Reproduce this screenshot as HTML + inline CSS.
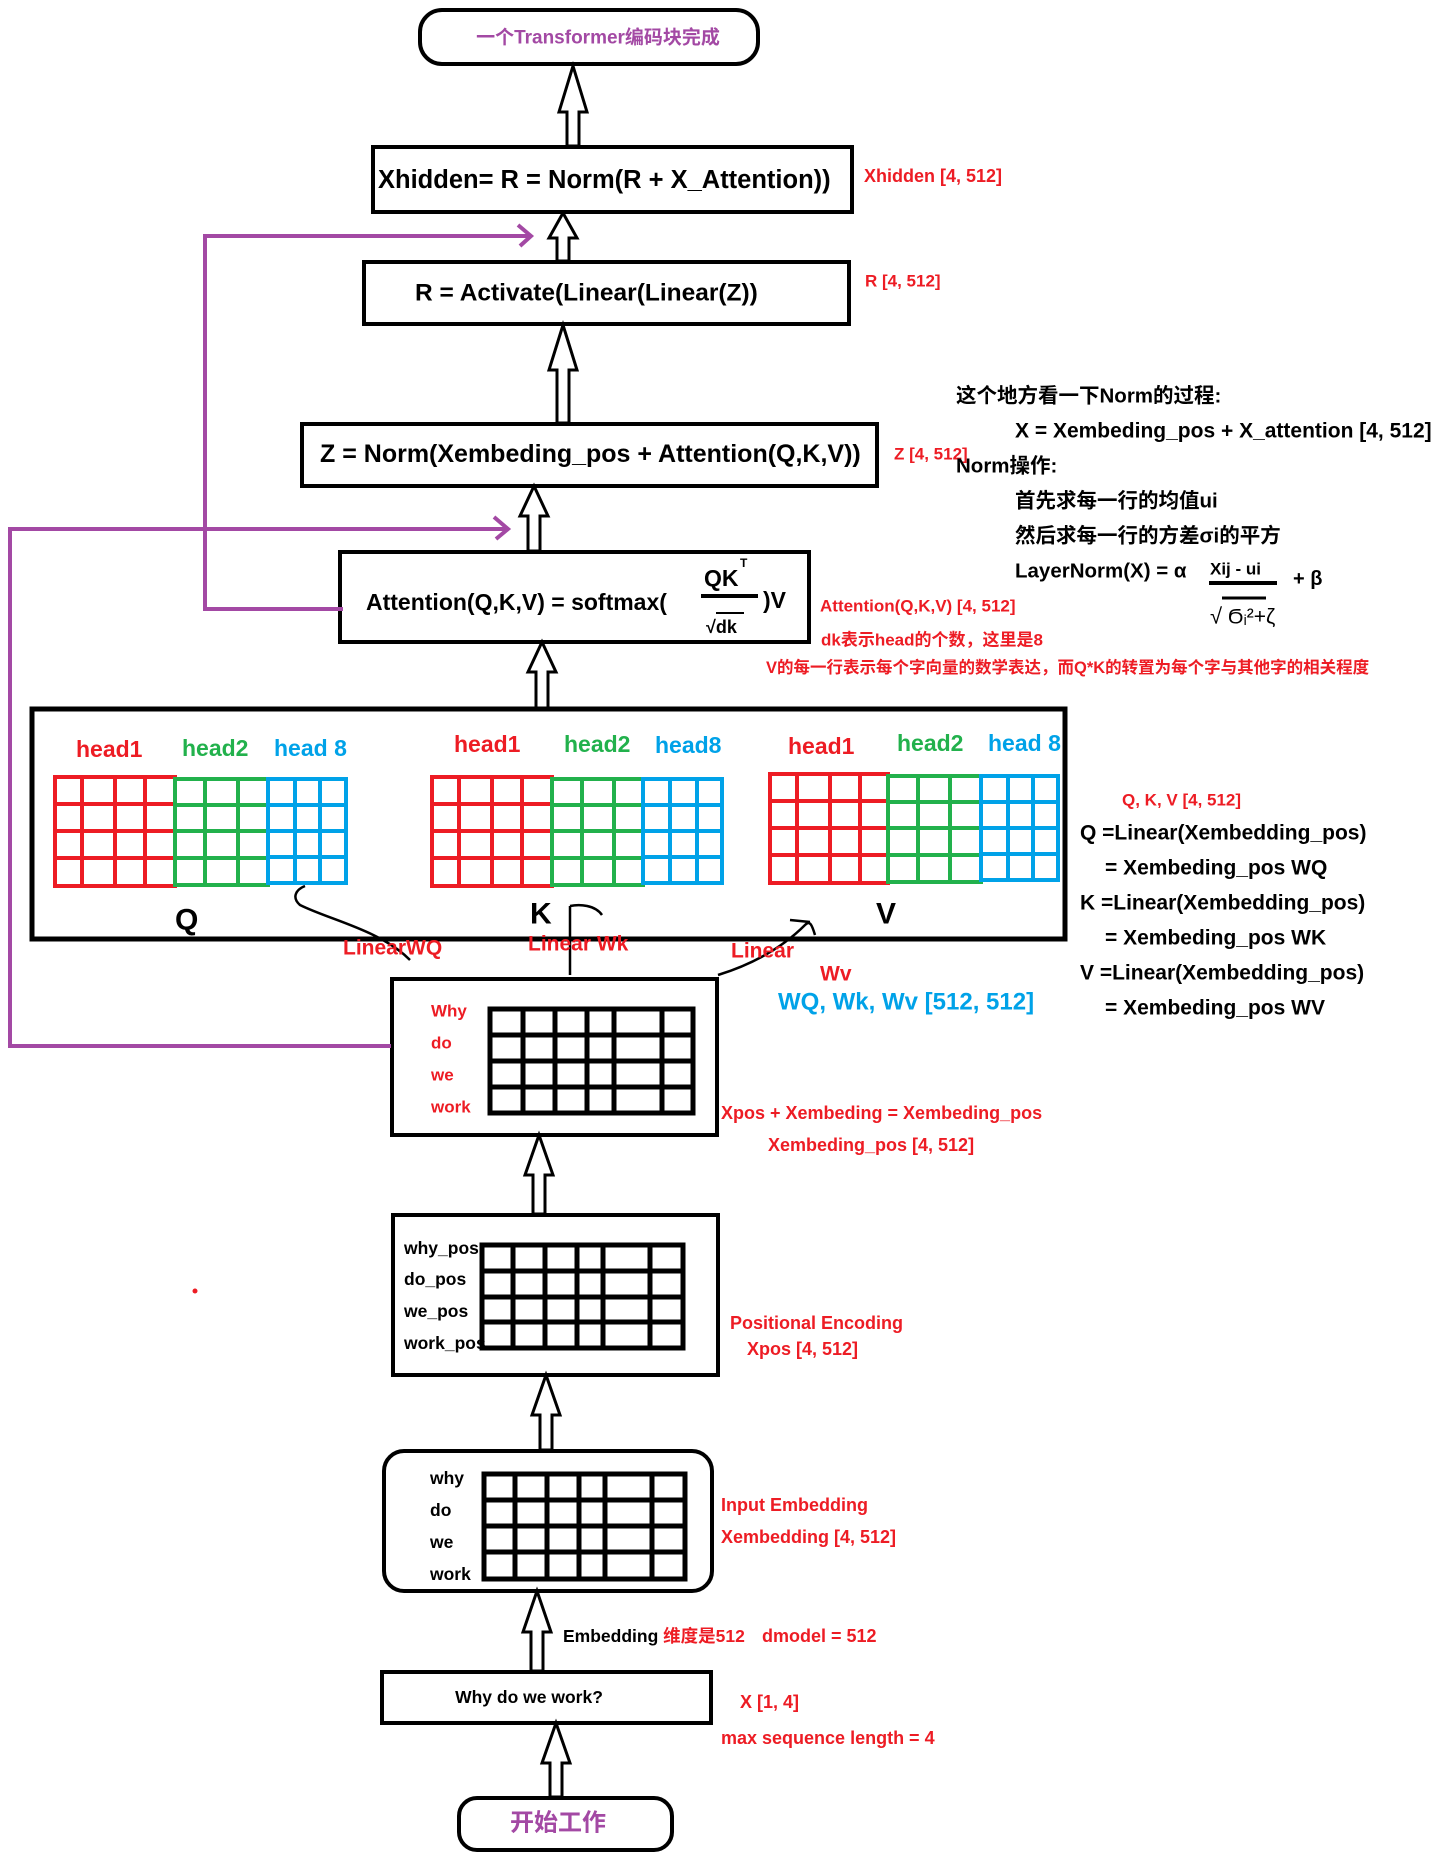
<!DOCTYPE html>
<html><head><meta charset="utf-8"><style>
html,body{margin:0;padding:0;background:#fff}
svg{display:block}
text{font-family:"Liberation Sans","Noto Sans CJK SC",sans-serif;dominant-baseline:central}
.b{font-weight:bold;fill:#000}
.r{fill:#ed1c24;font-weight:bold}
.p{fill:#a349a4;font-weight:bold}
.bl{fill:#00a2e8;font-weight:bold}
.g{fill:#22b14c;font-weight:bold}
</style></head><body>
<svg width="1451" height="1861" viewBox="0 0 1451 1861" xmlns="http://www.w3.org/2000/svg">
<g fill="none" stroke="#000" stroke-width="4">
<rect x="420" y="10" width="338" height="54" rx="22"/>
<rect x="373" y="147" width="479" height="65"/>
<rect x="364" y="262" width="485" height="62"/>
<rect x="302" y="424" width="575" height="62"/>
<rect x="340" y="552" width="469" height="90"/>
<rect x="32" y="709" width="1033" height="230" stroke-width="5"/>
<rect x="392" y="979" width="325" height="156"/>
<rect x="393" y="1215" width="325" height="160"/>
<rect x="384" y="1451" width="328" height="140" rx="20"/>
<rect x="382" y="1672" width="329" height="51"/>
<rect x="459" y="1798" width="213" height="52" rx="18"/>
</g>
<g fill="#fff" stroke="#000" stroke-width="3">
<polygon points="573,66 587,112 579,112 579,146 567,146 567,112 559,112"/>
<polygon points="563,213 577,238 569,238 569,261 557,261 557,238 549,238"/>
<polygon points="563,325 577,370 569,370 569,423 557,423 557,370 549,370"/>
<polygon points="534,486 548,516 540,516 540,551 528,551 528,516 520,516"/>
<polygon points="542,642 556,672 548,672 548,708 536,708 536,672 528,672"/>
<polygon points="539,1135 553,1175 545,1175 545,1214 533,1214 533,1175 525,1175"/>
<polygon points="546,1375 560,1415 552,1415 552,1450 540,1450 540,1415 532,1415"/>
<polygon points="537,1591 551,1632 543,1632 543,1671 531,1671 531,1632 523,1632"/>
<polygon points="556,1723 570,1763 562,1763 562,1797 550,1797 550,1763 542,1763"/>
</g>
<g fill="none" stroke="#a349a4" stroke-width="4">
<polyline points="391,1046 10,1046 10,529 505,529"/>
<path d="M494,517 L508,529 L496,539"/>
<polyline points="343,609 205,609 205,236 528,236"/>
<path d="M518,225 L531,236 L520,246"/>
</g>
<text x="598" y="38" text-anchor="middle" class="p" font-size="19">一个Transformer编码块完成</text>
<text x="378" y="180" class="b" font-size="25.5">Xhidden= R = Norm(R + X_Attention))</text>
<text x="415" y="293" class="b" font-size="24.5">R = Activate(Linear(Linear(Z))</text>
<text x="320" y="454" class="b" font-size="25">Z = Norm(Xembeding_pos + Attention(Q,K,V))</text>
<text x="366" y="602" class="b" font-size="23">Attention(Q,K,V) = softmax(</text>
<text x="704" y="578" class="b" font-size="23">QK</text>
<text x="740" y="563" class="b" font-size="12">T</text>
<line x1="701" y1="596" x2="758" y2="596" stroke="#000" stroke-width="4"/>
<text x="706" y="627" class="b" font-size="18">√dk</text>
<line x1="716" y1="613" x2="744" y2="613" stroke="#000" stroke-width="2"/>
<text x="763" y="600" class="b" font-size="23">)V</text>
<text x="864" y="176" class="r" font-size="18">Xhidden [4, 512]</text>
<text x="865" y="281" class="r" font-size="17">R [4, 512]</text>
<text x="894" y="454" class="r" font-size="17">Z [4, 512]</text>
<text x="820" y="606" class="r" font-size="17">Attention(Q,K,V) [4, 512]</text>
<text x="821" y="640" class="r" font-size="17">dk表示head的个数，这里是8</text>
<text x="766" y="668" class="r" font-size="16.5">V的每一行表示每个字向量的数学表达，而Q*K的转置为每个字与其他字的相关程度</text>
<text x="956" y="396" class="b" font-size="20.5">这个地方看一下Norm的过程:</text>
<text x="1015" y="431" class="b" font-size="21">X = Xembeding_pos + X_attention  [4, 512]</text>
<text x="956" y="466" class="b" font-size="20.5">Norm操作:</text>
<text x="1015" y="501" class="b" font-size="20.5">首先求每一行的均值ui</text>
<text x="1015" y="536" class="b" font-size="20.5">然后求每一行的方差σi的平方</text>
<text x="1015" y="571" class="b" font-size="20.5">LayerNorm(X) = α</text>
<text x="1210" y="569" class="b" font-size="17">Xij - ui</text>
<line x1="1209" y1="583" x2="1277" y2="583" stroke="#000" stroke-width="4"/>
<text x="1293" y="579" class="b" font-size="20">+ β</text>
<text x="1210" y="616" font-size="22" fill="#000">√</text>
<line x1="1222" y1="598" x2="1266" y2="598" stroke="#000" stroke-width="3"/>
<text x="1228" y="617" font-size="21" fill="#000">Ϭᵢ²+ζ</text>
<g font-size="23">
<text x="76" y="749" class="r">head1</text><text x="182" y="748" class="g">head2</text><text x="274" y="748" class="bl">head 8</text>
<text x="454" y="744" class="r">head1</text><text x="564" y="744" class="g">head2</text><text x="655" y="745" class="bl">head8</text>
<text x="788" y="746" class="r">head1</text><text x="897" y="743" class="g">head2</text><text x="988" y="743" class="bl">head 8</text>
</g>
<g fill="none" stroke-width="4">
<g stroke="#ed1c24"><rect x="55" y="777" width="120" height="109"/><path d="M55,804H175M55,831H175M55,858H175M82,777V886M115,777V886M145,777V886"/></g>
<g stroke="#22b14c"><rect x="175" y="779" width="93" height="106"/><path d="M175,805H268M175,831H268M175,858H268M205,779V885M238,779V885"/></g>
<g stroke="#00a2e8"><rect x="268" y="779" width="78" height="104"/><path d="M268,805H346M268,831H346M268,857H346M295,779V883M320,779V883"/></g>
<g stroke="#ed1c24"><rect x="432" y="777" width="120" height="109"/><path d="M432,804H552M432,831H552M432,858H552M459,777V886M492,777V886M522,777V886"/></g>
<g stroke="#22b14c"><rect x="552" y="779" width="91" height="106"/><path d="M552,805H643M552,831H643M552,858H643M582,779V885M614,779V885"/></g>
<g stroke="#00a2e8"><rect x="643" y="779" width="79" height="104"/><path d="M643,805H722M643,831H722M643,857H722M670,779V883M697,779V883"/></g>
<g stroke="#ed1c24"><rect x="770" y="774" width="118" height="109"/><path d="M770,801H888M770,828H888M770,855H888M797,774V883M830,774V883M860,774V883"/></g>
<g stroke="#22b14c"><rect x="888" y="776" width="93" height="106"/><path d="M888,802H981M888,828H981M888,855H981M918,776V882M950,776V882"/></g>
<g stroke="#00a2e8"><rect x="981" y="776" width="77" height="104"/><path d="M981,802H1058M981,828H1058M981,854H1058M1008,776V880M1033,776V880"/></g>
</g>
<text x="175" y="920" class="b" font-size="30">Q</text>
<text x="530" y="914" class="b" font-size="30">K</text>
<text x="876" y="914" class="b" font-size="30">V</text>
<g fill="none" stroke="#000" stroke-width="2.5">
<path d="M410,960 C380,930 330,920 300,905 C292,898 295,890 305,886"/>
<path d="M570,975 V906 M570,906 C580,904 595,905 602,915"/>
<path d="M718,975 C750,965 780,950 805,925 C810,920 812,925 815,935 M790,920 L810,922"/>
</g>
<text x="343" y="948" class="r" font-size="21">LinearWQ</text>
<text x="528" y="944" class="r" font-size="21">Linear Wk</text>
<text x="731" y="951" class="r" font-size="21">Linear</text>
<text x="820" y="974" class="r" font-size="21">Wv</text>
<text x="778" y="1002" class="bl" font-size="24">WQ, Wk, Wv [512, 512]</text>
<text x="1122" y="800" class="r" font-size="17">Q, K, V [4, 512]</text>
<g font-size="21">
<text x="1080" y="833" class="b">Q =Linear(Xembedding_pos)</text>
<text x="1105" y="868" class="b">= Xembeding_pos WQ</text>
<text x="1080" y="903" class="b">K =Linear(Xembedding_pos)</text>
<text x="1105" y="938" class="b">= Xembeding_pos WK</text>
<text x="1080" y="973" class="b">V =Linear(Xembedding_pos)</text>
<text x="1105" y="1008" class="b">= Xembeding_pos WV</text>
</g>
<text x="431" y="1011" class="r" font-size="17">Why</text>
<text x="431" y="1043" class="r" font-size="17">do</text>
<text x="431" y="1075" class="r" font-size="17">we</text>
<text x="431" y="1107" class="r" font-size="17">work</text>
<g fill="none" stroke="#000" stroke-width="5">
<rect x="490" y="1009" width="203" height="104"/><path d="M490,1035H693M490,1061H693M490,1087H693M523,1009V1113M555,1009V1113M587,1009V1113M614,1009V1113M662,1009V1113"/>
<rect x="482" y="1245" width="201" height="103"/><path d="M482,1271H683M482,1297H683M482,1322H683M513,1245V1348M545,1245V1348M577,1245V1348M603,1245V1348M650,1245V1348"/>
<rect x="484" y="1474" width="201" height="105"/><path d="M484,1500H685M484,1526H685M484,1552H685M515,1474V1579M547,1474V1579M579,1474V1579M605,1474V1579M652,1474V1579"/>
</g>
<text x="721" y="1113" class="r" font-size="18">Xpos + Xembeding = Xembeding_pos</text>
<text x="768" y="1145" class="r" font-size="18">Xembeding_pos [4, 512]</text>
<g font-size="17.5">
<text x="404" y="1248" class="b">why_pos</text><text x="404" y="1279" class="b">do_pos</text>
<text x="404" y="1311" class="b">we_pos</text><text x="404" y="1343" class="b">work_pos</text>
<text x="430" y="1478" class="b">why</text><text x="430" y="1510" class="b">do</text>
<text x="430" y="1542" class="b">we</text><text x="430" y="1574" class="b">work</text>
</g>
<circle cx="195" cy="1291" r="2.5" fill="#ed1c24"/>
<text x="730" y="1323" class="r" font-size="18">Positional Encoding</text>
<text x="747" y="1349" class="r" font-size="18">Xpos [4, 512]</text>
<text x="721" y="1505" class="r" font-size="18">Input Embedding</text>
<text x="721" y="1537" class="r" font-size="18">Xembedding [4, 512]</text>
<text x="563" y="1636" class="b" font-size="17.5">Embedding <tspan fill="#ed1c24">维度是512</tspan></text>
<text x="762" y="1636" class="r" font-size="18">dmodel = 512</text>
<text x="529" y="1697" text-anchor="middle" class="b" font-size="17.5">Why do we work?</text>
<text x="740" y="1702" class="r" font-size="18">X [1, 4]</text>
<text x="721" y="1738" class="r" font-size="18">max sequence length = 4</text>
<text x="558" y="1823" text-anchor="middle" class="p" font-size="24">开始工作</text>
</svg>
</body></html>
